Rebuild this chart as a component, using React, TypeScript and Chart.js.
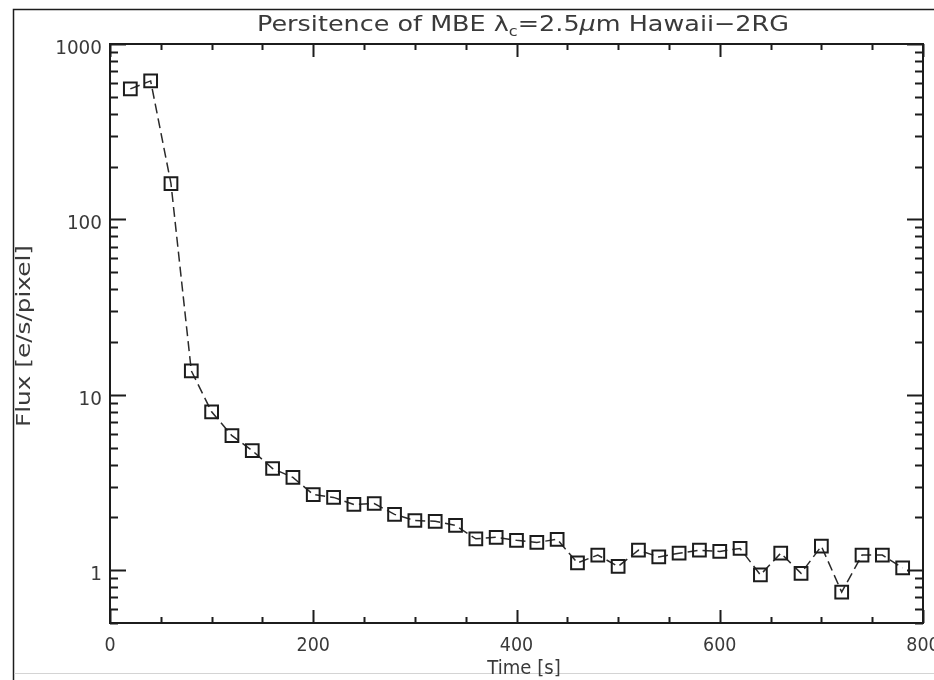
import React, { useEffect, useRef } from 'react';
import { Chart, registerables } from 'chart.js';

Chart.register(...registerables);

// Persistence decay measured every 20 s
const timeSeconds = [
  20, 40, 60, 80, 100, 120, 140, 160, 180, 200,
  220, 240, 260, 280, 300, 320, 340, 360, 380, 400,
  420, 440, 460, 480, 500, 520, 540, 560, 580, 600,
  620, 640, 660, 680, 700, 720, 740, 760, 780,
];
const fluxValues = [
  555, 616, 160, 13.7, 8.0, 5.85, 4.8, 3.8, 3.38, 2.7,
  2.6, 2.37, 2.4, 2.08, 1.92, 1.9, 1.8, 1.51, 1.54, 1.48,
  1.44, 1.5, 1.1, 1.22, 1.05, 1.3, 1.19, 1.25, 1.3, 1.28,
  1.33, 0.94, 1.25, 0.96, 1.37, 0.75, 1.22, 1.22, 1.03,
];

// Axis ranges and tick marks
const xRange = [0, 800];
const yRange = [0.5, 1000];
const xMajorTicks = [0, 200, 400, 600, 800];
const xMajorLabels = ['0', '200', '400', '600', '800'];
const xMinorTicks = [50, 100, 150, 250, 300, 350, 450, 500, 550, 650, 700, 750];
const yMajorTicks = [1, 10, 100, 1000];
const yMajorLabels = ['1', '10', '100', '1000'];
const yMinorTicks = [
  0.5, 0.6, 0.7, 0.8, 0.9,
  2, 3, 4, 5, 6, 7, 8, 9,
  20, 30, 40, 50, 60, 70, 80, 90,
  200, 300, 400, 500, 600, 700, 800, 900,
];

const titleParts = [
  { text: 'Persitence of MBE ', style: 'normal' },
  { text: 'λ', style: 'normal' },
  { text: 'c', style: 'sub' },
  { text: '=2.5', style: 'normal' },
  { text: 'μ', style: 'italic' },
  { text: 'm Hawaii−2RG', style: 'normal' },
];
const xAxisTitle = 'Time [s]';
const yAxisTitle = 'Flux [e/s/pixel]';

const FONT = '"DejaVu Sans", "Liberation Sans", sans-serif';
const INK = '#1c1c1c';
const TEXT = '#3a3a3a';

function partFont(style: string, size: number) {
  if (style === 'sub') return `${Math.round(size * 0.62)}px ${FONT}`;
  if (style === 'italic') return `italic ${size}px ${FONT}`;
  return `${size}px ${FONT}`;
}

function drawTitle(ctx: CanvasRenderingContext2D, x0: number, baseline: number, size: number, width: number) {
  let natural = 0;
  for (const p of titleParts) {
    ctx.font = partFont(p.style, size);
    natural += ctx.measureText(p.text).width;
  }
  ctx.save();
  ctx.translate(x0, baseline);
  ctx.scale(width / natural, 1);
  ctx.fillStyle = TEXT;
  ctx.textBaseline = 'alphabetic';
  ctx.textAlign = 'left';
  let x = 0;
  for (const p of titleParts) {
    ctx.font = partFont(p.style, size);
    const dy = p.style === 'sub' ? size * 0.22 : 0;
    ctx.fillText(p.text, x, dy);
    x += ctx.measureText(p.text).width;
  }
  ctx.restore();
}

function drawText(
  ctx: CanvasRenderingContext2D,
  text: string,
  x: number,
  y: number,
  size: number,
  sx: number,
  align: CanvasTextAlign,
  rotate = 0,
) {
  ctx.save();
  ctx.font = `${size}px ${FONT}`;
  ctx.translate(x, y);
  ctx.rotate(rotate);
  ctx.scale(sx, 1);
  ctx.fillStyle = TEXT;
  ctx.textAlign = align;
  ctx.textBaseline = 'alphabetic';
  ctx.fillText(text, 0, 0);
  ctx.restore();
}

// text stretched along its baseline to a given length
function drawFitted(
  ctx: CanvasRenderingContext2D,
  text: string,
  x: number,
  y: number,
  size: number,
  length: number,
  rotate = 0,
) {
  ctx.save();
  ctx.font = `${size}px ${FONT}`;
  const natural = ctx.measureText(text).width;
  ctx.restore();
  drawText(ctx, text, x, y, size, length / natural, 'center', rotate);
}

const idlFramePlugin = {
  id: 'idlFrame',
  beforeDraw(chart: any) {
    const { ctx, width, height } = chart;
    ctx.save();
    ctx.fillStyle = '#ffffff';
    ctx.fillRect(0, 0, width, height);
    ctx.restore();
  },
  afterDatasetsDraw(chart: any) {
    const { ctx, chartArea } = chart;
    const xs = chart.scales.x;
    const ys = chart.scales.y;
    const { left, right, top, bottom } = chartArea;

    ctx.save();
    // outer window frame
    ctx.strokeStyle = INK;
    ctx.lineWidth = 1.5;
    ctx.beginPath();
    ctx.moveTo(13.5, 680);
    ctx.lineTo(13.5, 9.5);
    ctx.lineTo(934, 9.5);
    ctx.stroke();
    ctx.strokeStyle = '#d4d4d4';
    ctx.lineWidth = 1;
    ctx.beginPath();
    ctx.moveTo(14, 673.5);
    ctx.lineTo(934, 673.5);
    ctx.stroke();

    // plot box
    ctx.strokeStyle = INK;
    ctx.lineWidth = 2;
    ctx.strokeRect(left, top, right - left, bottom - top);

    // x ticks (bottom + top, pointing inward)
    ctx.beginPath();
    const xTick = (v: number, len: number) => {
      const px = Math.round(xs.getPixelForValue(v)) + 0.5;
      ctx.moveTo(px, bottom);
      ctx.lineTo(px, bottom - len);
      ctx.moveTo(px, top);
      ctx.lineTo(px, top + len);
    };
    xMajorTicks.forEach((v) => xTick(v, 13));
    xMinorTicks.forEach((v) => xTick(v, 6));
    // y ticks (left + right, pointing inward)
    const yTick = (v: number, len: number) => {
      const py = Math.round(ys.getPixelForValue(v)) + 0.5;
      ctx.moveTo(left, py);
      ctx.lineTo(left + len, py);
      ctx.moveTo(right, py);
      ctx.lineTo(right - len, py);
    };
    yMajorTicks.forEach((v) => yTick(v, 16));
    yMinorTicks.forEach((v) => yTick(v, 8));
    ctx.stroke();

    // tick labels
    xMajorTicks.forEach((v, i) => {
      drawText(ctx, xMajorLabels[i], xs.getPixelForValue(v), bottom + 28, 19, 0.92, 'center');
    });
    yMajorTicks.forEach((v, i) => {
      drawText(ctx, yMajorLabels[i], left - 8, ys.getPixelForValue(v) + 10, 20, 0.92, 'right');
    });

    // titles
    drawTitle(ctx, 257, 31, 22, 532);
    drawText(ctx, xAxisTitle, 524, 674, 19, 0.95, 'center');
    drawFitted(ctx, yAxisTitle, 30, 336, 20, 182, -Math.PI / 2);
    ctx.restore();
  },
};

export default function App() {
  const canvasRef = useRef<HTMLCanvasElement | null>(null);

  useEffect(() => {
    const canvas = canvasRef.current;
    if (!canvas) return;
    const chart = new Chart(canvas, {
      type: 'scatter',
      data: {
        datasets: [
          {
            data: timeSeconds.map((t, i) => ({ x: t, y: fluxValues[i] })),
            showLine: true,
            borderColor: '#2a2a2a',
            borderWidth: 1.5,
            borderDash: [10, 5],
            pointStyle: 'rect',
            pointRadius: 9,
            pointBorderWidth: 2,
            pointBorderColor: INK,
            pointBackgroundColor: 'rgba(0,0,0,0)',
          },
        ],
      },
      options: {
        responsive: false,
        animation: false,
        devicePixelRatio: 1,
        layout: { padding: { left: 110, right: 10, top: 44, bottom: 57 } },
        plugins: { legend: { display: false }, tooltip: { enabled: false } },
        scales: {
          x: { type: 'linear', min: xRange[0], max: xRange[1], display: false },
          y: { type: 'logarithmic', min: yRange[0], max: yRange[1], display: false },
        },
      },
      plugins: [idlFramePlugin],
    });
    return () => chart.destroy();
  }, []);

  return (
    <div style={{ position: 'absolute', left: 0, top: 0, width: 934, height: 680, background: '#fff' }}>
      <canvas ref={canvasRef} width={934} height={680} style={{ display: 'block', width: 934, height: 680 }} />
    </div>
  );
}
